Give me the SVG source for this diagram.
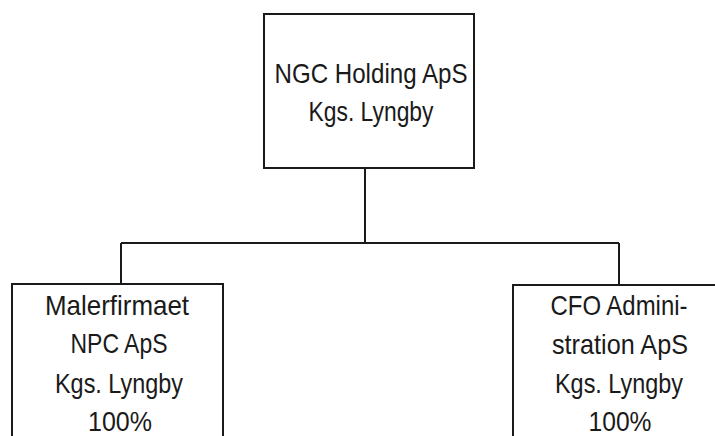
<svg xmlns="http://www.w3.org/2000/svg" width="715" height="436" viewBox="0 0 715 436">
<style>
.box{fill:#fff;stroke:#1a1a1a;stroke-width:2}
.ln{fill:none;stroke:#1a1a1a;stroke-width:2}
text{font-family:"Liberation Sans",Arial,sans-serif;font-size:28px;fill:#1a1a1a;text-anchor:middle}
</style>
<rect width="715" height="436" fill="#fff"/>
<g id="connectors">
<path class="ln" d="M365,168 V243"/>
<path class="ln" d="M121,243 H619"/>
<path class="ln" d="M121,243 V284"/>
<path class="ln" d="M619,243 V285"/>
</g>
<g id="ngc-holding">
<rect class="box" x="264" y="14" width="210" height="154"/>
<text x="371" y="83" textLength="193" lengthAdjust="spacingAndGlyphs">NGC Holding ApS</text>
<text x="371" y="121" textLength="125" lengthAdjust="spacingAndGlyphs">Kgs. Lyngby</text>
</g>
<g id="malerfirmaet">
<rect class="box" x="12" y="284" width="211" height="170"/>
<text x="117" y="315" textLength="144" lengthAdjust="spacingAndGlyphs">Malerfirmaet</text>
<text x="119" y="353" textLength="97" lengthAdjust="spacingAndGlyphs">NPC ApS</text>
<text x="119" y="393" textLength="128" lengthAdjust="spacingAndGlyphs">Kgs. Lyngby</text>
<text x="120" y="431" textLength="64" lengthAdjust="spacingAndGlyphs">100%</text>
</g>
<g id="cfo-administration">
<rect class="box" x="513" y="285" width="210" height="170"/>
<text x="619" y="315" textLength="137" lengthAdjust="spacingAndGlyphs">CFO Admini-</text>
<text x="620" y="354" textLength="136" lengthAdjust="spacingAndGlyphs">stration ApS</text>
<text x="619" y="393" textLength="128" lengthAdjust="spacingAndGlyphs">Kgs. Lyngby</text>
<text x="620" y="431" textLength="63" lengthAdjust="spacingAndGlyphs">100%</text>
</g>
</svg>
